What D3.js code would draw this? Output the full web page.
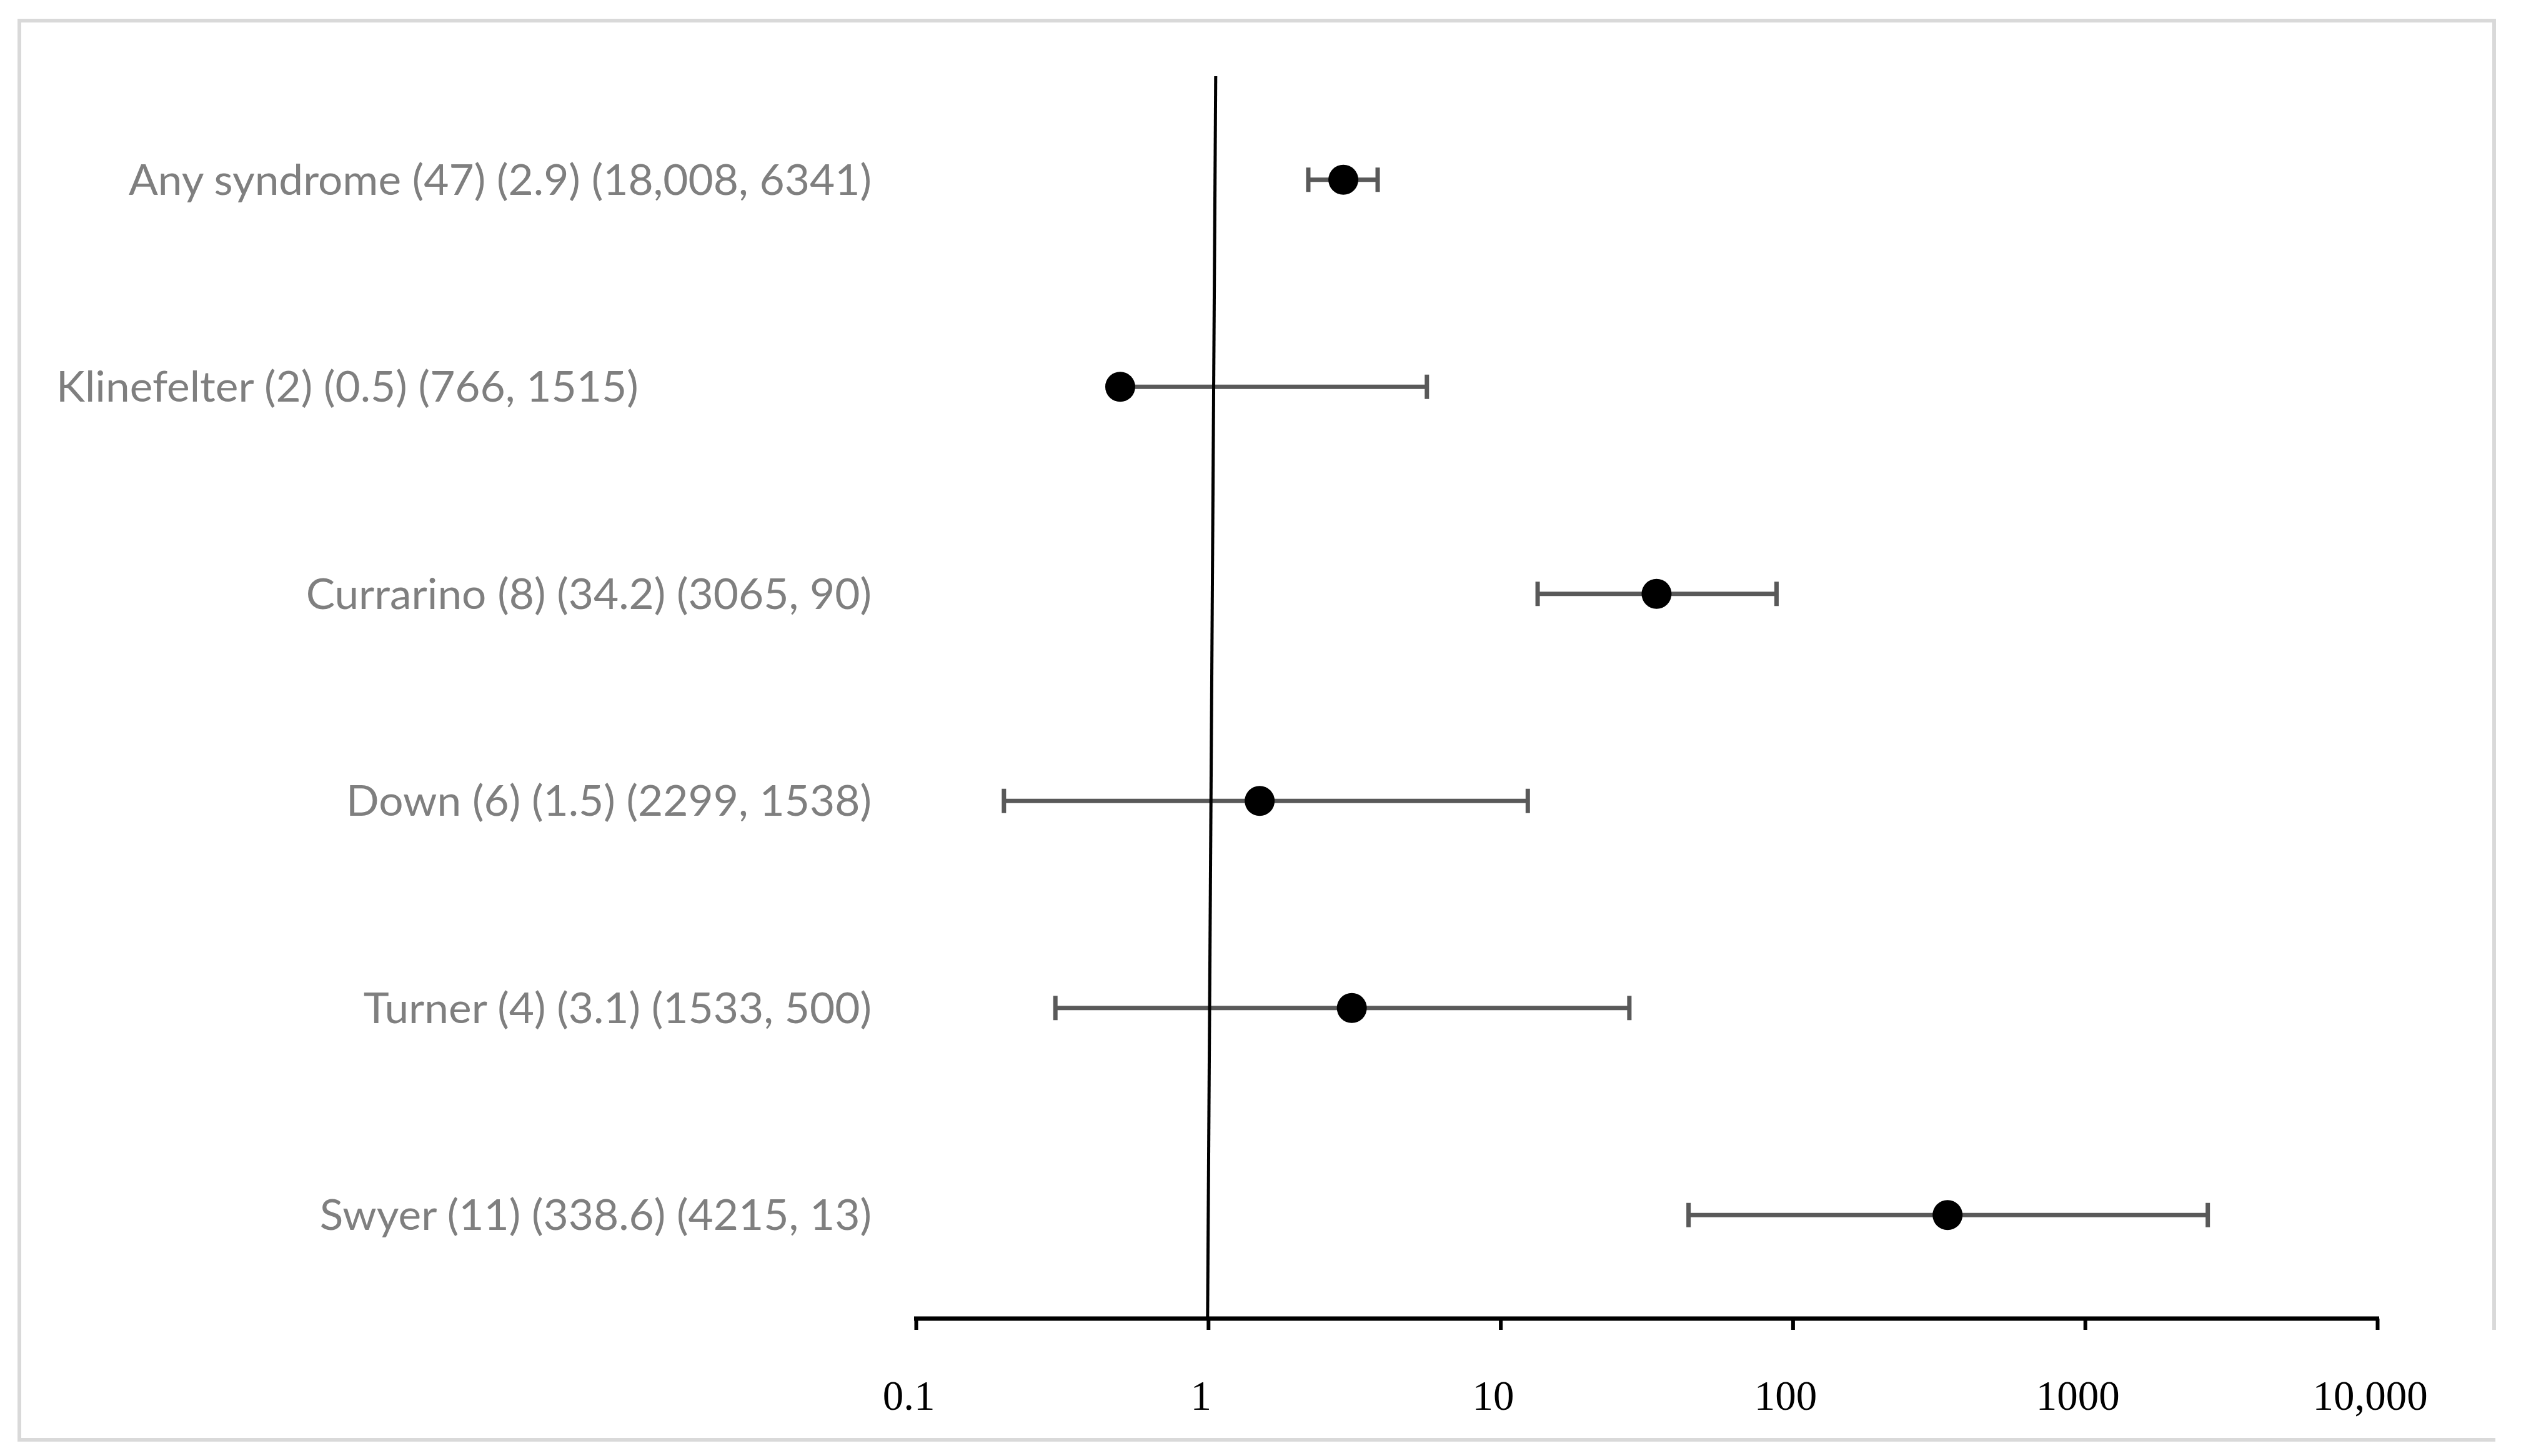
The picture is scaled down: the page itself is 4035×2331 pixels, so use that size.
<!DOCTYPE html>
<html>
<head>
<meta charset="utf-8">
<script src="https://cdn.jsdelivr.net/npm/d3@7"></script>
<style>
  html, body { margin: 0; padding: 0; background: #ffffff; }
  svg { display: block; }
</style>
</head>
<body>
<div id="chart"></div>
<script>
// ---- Data ----
const categories = [
  "Any syndrome (47) (2.9) (18,008, 6341)",
  "Klinefelter (2) (0.5) (766, 1515)",
  "Currarino (8) (34.2) (3065, 90)",
  "Down (6) (1.5) (2299, 1538)",
  "Turner (4) (3.1) (1533, 500)",
  "Swyer (11) (338.6) (4215, 13)"
];
const estimates = [2.9, 0.5, 34.2, 1.5, 3.1, 338.6];
const lowerCI   = [2.2, 0.5, 13.4, 0.2, 0.3, 44];
const upperCI   = [3.8, 5.6, 88, 12.4, 27.6, 2630];
const tickValues = [0.1, 1, 10, 100, 1000, 10000];
const tickLabels = ["0.1", "1", "10", "100", "1000", "10,000"];
const referenceValue = 1;

// ---- Layout ----
const W = 4035, H = 2331;
const plotTop = 122, plotBottom = 2111;
const xLeft = 1466, xRight = 3805;

const svg = d3.select("#chart").append("svg")
  .attr("width", W).attr("height", H)
  .attr("viewBox", `0 0 ${W} ${H}`);

svg.append("rect").attr("width", W).attr("height", H).attr("fill", "#ffffff");

// outer frame (light gray)
const frame = svg.append("g")
  .attr("fill", "none").attr("stroke", "#d9d9d9").attr("stroke-width", 6);
frame.append("path").attr("d", "M31,2305 V33 H3992 V2129");
frame.append("path").attr("d", "M28,2305 H3994");

const x = d3.scaleLog().domain([0.1, 10000]).range([xLeft, xRight]);
const y = d3.scaleBand().domain(categories).range([plotTop, plotBottom]);
const yc = d => y(d) + y.bandwidth() / 2;

// x axis
const axis = svg.append("g")
  .attr("transform", `translate(0,${plotBottom})`)
  .call(d3.axisBottom(x)
    .tickValues(tickValues)
    .tickFormat((d, i) => tickLabels[i])
    .tickSize(18)
    .tickSizeOuter(0));
axis.select(".domain").attr("stroke", "#000").attr("stroke-width", 7)
  .attr("d", `M${xLeft - 3},0H${xRight + 3}`);
axis.selectAll(".tick line").attr("stroke", "#000").attr("stroke-width", 6);
axis.selectAll(".tick text")
  .attr("y", 146).attr("dy", 0).attr("dx", -12)
  .attr("fill", "#000")
  .style("font-family", "'Liberation Serif', 'Times New Roman', serif")
  .style("font-size", "67px");

// error bars
const bars = svg.append("g").attr("stroke", "#595959").attr("stroke-width", 7).attr("fill", "none");
categories.forEach((c, i) => {
  const cy = yc(c);
  bars.append("line")
    .attr("x1", x(lowerCI[i])).attr("x2", x(upperCI[i]))
    .attr("y1", cy).attr("y2", cy);
  [lowerCI[i], upperCI[i]].forEach(v => {
    bars.append("line")
      .attr("x1", x(v)).attr("x2", x(v))
      .attr("y1", cy - 19.5).attr("y2", cy + 19.5);
  });
});

// reference line at 1 (slightly tilted like the original)
svg.append("line")
  .attr("x1", x(referenceValue) + 12).attr("y1", plotTop)
  .attr("x2", x(referenceValue) - 1).attr("y2", plotBottom)
  .attr("stroke", "#000").attr("stroke-width", 5);

// points
svg.append("g").selectAll("circle")
  .data(categories)
  .join("circle")
  .attr("cx", (d, i) => x(estimates[i]))
  .attr("cy", d => yc(d))
  .attr("r", 24)
  .attr("fill", "#000");

// category labels
const labelG = svg.append("g")
  .style("font-family", "Lato, 'Open Sans', sans-serif")
  .style("font-weight", 400)
  .style("font-size", "67px")
  .attr("fill", "#7f7f7f");
const labels = labelG.selectAll("text")
  .data(categories)
  .join("text")
  .attr("x", (d, i) => i === 1 ? 90 : 1395)
  .attr("y", d => yc(d) + 24)
  .attr("text-anchor", (d, i) => i === 1 ? "start" : "end")
  .text(d => d);
const w0 = labels.nodes()[0].getComputedTextLength();
const factor = 1189 / w0;
labels.each(function () {
  const w = this.getComputedTextLength();
  d3.select(this).attr("textLength", w * factor).attr("lengthAdjust", "spacingAndGlyphs");
});
</script>
</body>
</html>
